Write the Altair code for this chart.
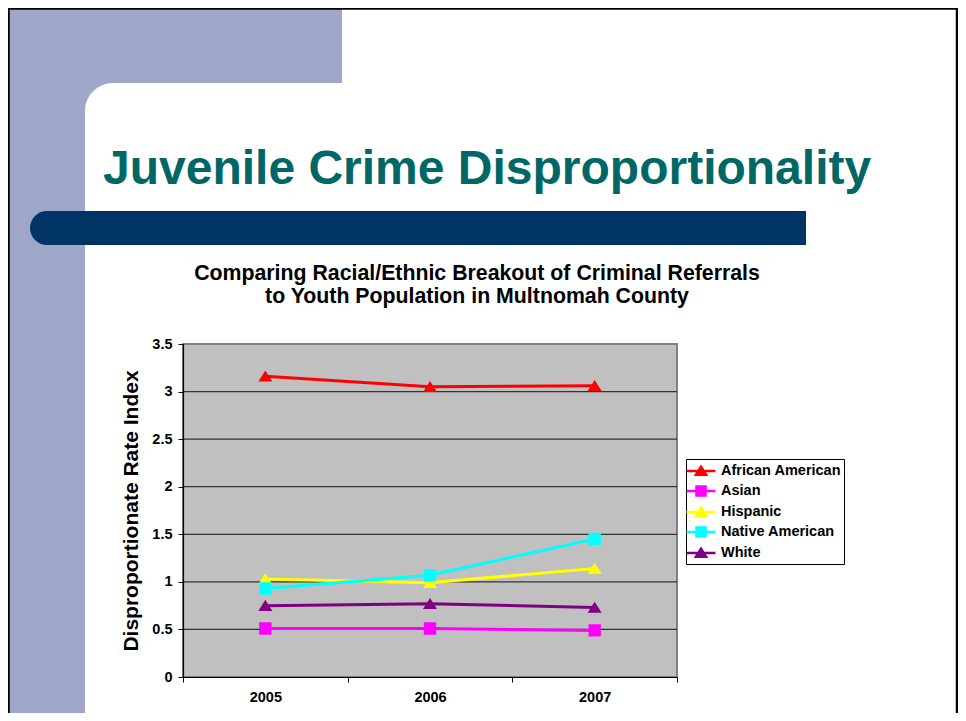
import altair as alt
import pandas as pd

# ---------------- data ----------------
years = ["2005", "2006", "2007"]
series_names = ["African American", "Asian", "Hispanic", "Native American", "White"]
african_american = [3.16, 3.05, 3.06]
asian = [0.51, 0.51, 0.49]
hispanic = [1.03, 0.99, 1.14]
native_american = [0.93, 1.07, 1.45]
white = [0.75, 0.77, 0.73]
y_ticks = [0, 0.5, 1, 1.5, 2, 2.5, 3, 3.5]
grid_values = [0.5, 1, 1.5, 2, 2.5, 3]

slide_title = "Juvenile Crime Disproportionality"
chart_title = ["Comparing Racial/Ethnic Breakout of Criminal Referrals",
               "to Youth Population in Multnomah County"]
y_title = "Disproportionate Rate Index"

series_colors = ["#FF0000", "#FF00FF", "#FFFF00", "#00FFFF", "#800080"]
TRI = "M-1.7,0H1.7M0,-0.5L0.6,0.45H-0.6Z"
SQR = "M-1.7,0H1.7M-0.53,-0.53H0.53V0.53H-0.53Z"
series_shapes = [TRI, SQR, TRI, SQR, TRI]

values = [african_american, asian, hispanic, native_american, white]
rows = []
for name, vals in zip(series_names, values):
    for yr, v in zip(years, vals):
        rows.append({"series": name, "year": yr, "value": v})
df = pd.DataFrame(rows)

FONT = "Liberation Sans"
W, H = 494, 333

one = alt.Data(values=[{"k": 1}])

x_enc = alt.X("year:N", sort=years, title=None,
              scale=alt.Scale(domain=years, paddingInner=0, paddingOuter=0),
              axis=alt.Axis(labelAngle=0, labelFont=FONT, labelFontSize=14.5,
                            labelFontWeight="bold", labelColor="black",
                            domainColor="black", domainWidth=1.2,
                            tickColor="black", tickSize=5, tickBand="extent",
                            labelPadding=8, grid=False, zindex=1))
y_enc = alt.Y("value:Q", title=y_title,
              scale=alt.Scale(domain=[0, 3.5], nice=False, zero=True),
              axis=alt.Axis(values=y_ticks, format="~g", labelFont=FONT,
                            labelFontSize=14.5, labelFontWeight="bold",
                            labelColor="black", labelPadding=6,
                            domainColor="black", domainWidth=1.2,
                            tickColor="black", tickSize=5, grid=False,
                            titleFont=FONT, titleFontSize=21,
                            titleFontWeight="bold", titleColor="black",
                            titlePadding=10, zindex=1))

color_scale = alt.Scale(domain=series_names, range=series_colors)
shape_scale = alt.Scale(domain=series_names, range=series_shapes)


def make_legend():
    return alt.Legend(title=None, orient="none", legendX=503, legendY=115,
                      fillColor="white", strokeColor="black", padding=2,
                      labelFont=FONT, labelFontSize=14.5,
                      labelFontWeight="bold", labelColor="black",
                      symbolSize=289, symbolStrokeWidth=2.5, symbolOffset=3,
                      labelOffset=10, rowPadding=1,
                      symbolOpacity=1, zindex=2)


# ---------------- decorations ----------------
lavender = alt.Chart(one).mark_rect(color="#9EA6C9").encode(
    x=alt.value(-175), x2=alt.value(159), y=alt.value(-336), y2=alt.value(400))
white_panel = alt.Chart(one).mark_rect(color="white", cornerRadiusTopLeft=28).encode(
    x=alt.value(-98), x2=alt.value(820), y=alt.value(-261), y2=alt.value(460))
navy_bar = alt.Chart(one).mark_rect(color="#003366", cornerRadiusTopLeft=17,
                                    cornerRadiusBottomLeft=17).encode(
    x=alt.value(-153), x2=alt.value(623), y=alt.value(-133), y2=alt.value(-99))
border = alt.Chart(one).mark_rect(fill="transparent", stroke="black", strokeWidth=2.5).encode(
    x=alt.value(-174.5), x2=alt.value(774), y=alt.value(-335.5), y2=alt.value(460))
title_text = alt.Chart(one).mark_text(
    text=slide_title, font=FONT, fontSize=48, fontWeight="bold", color="#006666",
    align="left", baseline="alphabetic").encode(x=alt.value(-80), y=alt.value(-160))
ct1 = alt.Chart(one).mark_text(
    text=chart_title[0], font=FONT, fontSize=21.3, fontWeight="bold", color="black",
    align="center", baseline="alphabetic").encode(x=alt.value(294), y=alt.value(-64))
ct2 = alt.Chart(one).mark_text(
    text=chart_title[1], font=FONT, fontSize=21.3, fontWeight="bold", color="black",
    align="center", baseline="alphabetic").encode(x=alt.value(294), y=alt.value(-41))

plot_bg = alt.Chart(one).mark_rect(fill="#C0C0C0", stroke="#808080", strokeWidth=2).encode(
    x=alt.value(0), x2=alt.value(W), y=alt.value(0), y2=alt.value(H))

grid = alt.Chart(pd.DataFrame({"value": grid_values})).mark_rule(
    color="#333333", strokeWidth=1.3).encode(y=y_enc)

lines = alt.Chart(df).mark_line(strokeWidth=3).encode(
    x=x_enc, y=y_enc,
    color=alt.Color("series:N", scale=color_scale, legend=make_legend()))

points = alt.Chart(df).mark_point(filled=True, size=545, opacity=1,
                                  strokeWidth=0).encode(
    x=x_enc, y=y_enc,
    color=alt.Color("series:N", scale=color_scale, legend=make_legend()),
    stroke=alt.Stroke("series:N", scale=color_scale, legend=make_legend()),
    shape=alt.Shape("series:N", scale=shape_scale, legend=make_legend()))

chart = alt.layer(
    lavender, white_panel, border, navy_bar, title_text, ct1, ct2,
    plot_bg, grid, lines, points
).properties(
    width=W, height=H,
    autosize=alt.AutoSizeParams(type="none"),
    padding={"left": 175, "top": 336, "right": 281, "bottom": 36},
    background="white"
).configure_view(stroke=None)

chart.save("out.html", embed_options={"renderer": "svg", "actions": False})
